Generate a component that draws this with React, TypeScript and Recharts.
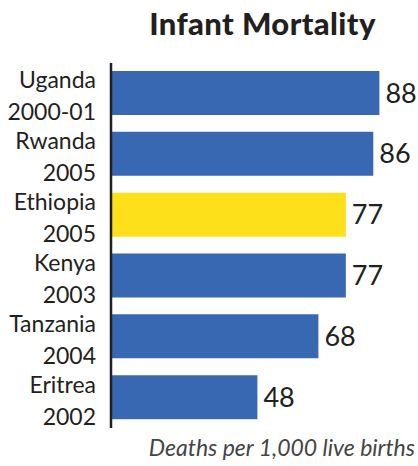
import React from 'react';
import { BarChart, Bar, XAxis, YAxis, Cell, LabelList } from 'recharts';

const countries = ['Uganda', 'Rwanda', 'Ethiopia', 'Kenya', 'Tanzania', 'Eritrea'];
const surveyYears = ['2000-01', '2005', '2005', '2003', '2004', '2002'];
const deaths = [88, 86, 77, 77, 68, 48];
const highlighted = 'Ethiopia';

const FONT = 'Lato, "Open Sans", sans-serif';
const INK = '#231f20';
const BLUE = '#3968b2';
const YELLOW = '#fde01a';

const data = countries.map((c, i) => ({ name: c, year: surveyYears[i], value: deaths[i] }));

// two-line category label: country over survey year
const CountryTick = (props: any) => {
    const { x, y, payload } = props;
    const row = data.find(d => d.name === payload.value);
    return (
        <g>
            <text x={x - 7} y={y - 5} textAnchor="end" fill={INK} fontFamily={FONT} fontSize={23}>{payload.value}</text>
            <text x={x - 7} y={y + 27} textAnchor="end" fill={INK} fontFamily={FONT} fontSize={23}>{row ? row.year : ''}</text>
        </g>
    );
};

export default function App() {
    return (
        <div style={{ position: 'absolute', left: 0, top: 0, width: 418, height: 466, background: '#fff', overflow: 'hidden' }}>
            <div style={{ position: 'absolute', left: 107, width: 311, top: 4, textAlign: 'center', fontFamily: FONT, fontWeight: 900, fontSize: 31, color: INK, letterSpacing: 0.4 }}>
                Infant Mortality
            </div>
            <BarChart
                width={418}
                height={466}
                data={data}
                layout="vertical"
                margin={{ top: 63, right: 2, left: 0, bottom: 38 }}
                barSize={44}
            >
                <XAxis type="number" domain={[0, 100]} hide />
                <YAxis
                    type="category"
                    dataKey="name"
                    width={111}
                    axisLine={{ stroke: INK, strokeWidth: 2.5 }}
                    tickLine={false}
                    tick={<CountryTick />}
                    interval={0}
                />
                <Bar dataKey="value" isAnimationActive={false}>
                    {data.map(d => (
                        <Cell key={d.name} fill={d.name === highlighted ? YELLOW : BLUE} />
                    ))}
                    <LabelList dataKey="value" position="right" offset={6} fill={INK} fontFamily={FONT} fontSize={27} />
                </Bar>
            </BarChart>
            <div style={{ position: 'absolute', right: 3, top: 433, fontFamily: FONT, fontStyle: 'italic', fontWeight: 400, fontSize: 23, color: '#444' }}>
                Deaths per 1,000 live births
            </div>
        </div>
    );
}
